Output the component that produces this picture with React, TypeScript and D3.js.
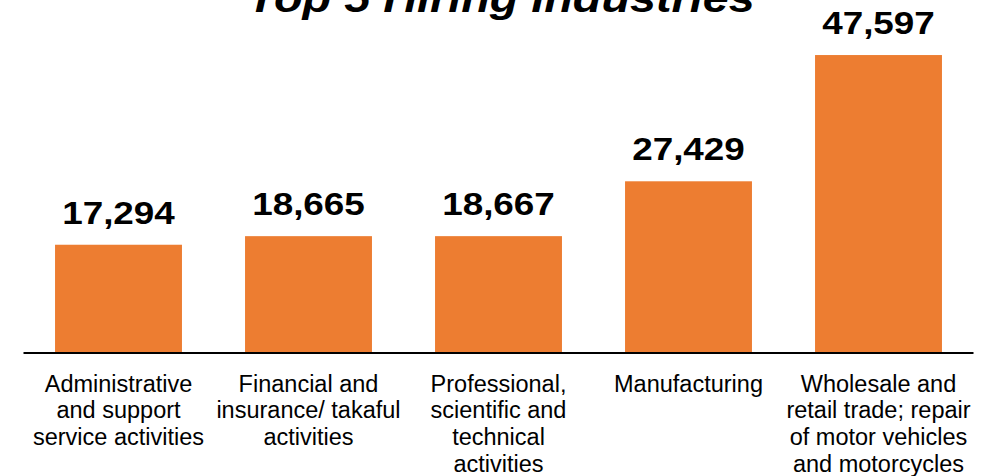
import React, { useEffect, useRef } from "react";
import * as d3 from "d3";

const categories = [
  "Administrative and support service activities",
  "Financial and insurance/ takaful activities",
  "Professional, scientific and technical activities",
  "Manufacturing",
  "Wholesale and retail trade; repair of motor vehicles and motorcycles",
];
const labelLines = [
  ["Administrative", "and support", "service activities"],
  ["Financial and", "insurance/ takaful", "activities"],
  ["Professional,", "scientific and", "technical", "activities"],
  ["Manufacturing"],
  ["Wholesale and", "retail trade; repair", "of motor vehicles", "and motorcycles"],
];
const hires = [17294, 18665, 18667, 27429, 47597];
const title = "Top 5 Hiring Industries";

export default function App() {
  const ref = useRef<HTMLDivElement | null>(null);

  useEffect(() => {
    if (!ref.current) return;
    d3.select(ref.current).selectAll("svg").remove();

    const W = 988;
    const H = 476;
    const font = "'Liberation Sans', Arial, sans-serif";
    const baseY = 353;

    const svg = d3
      .select(ref.current)
      .append("svg")
      .attr("width", W)
      .attr("height", H)
      .style("position", "absolute")
      .style("left", "0px")
      .style("top", "0px")
      .style("background", "#fff");

    const x = d3
      .scaleBand<string>()
      .domain(categories)
      .range([23.5, 973.5])
      .paddingInner(0.332)
      .paddingOuter(0.166);
    const y = d3.scaleLinear([0, 50000], [baseY, 40]);

    // title (cut at the top like the source)
    svg
      .append("text")
      .attr("transform", "translate(501,12) scale(1.17,1)")
      .attr("text-anchor", "middle")
      .attr("font-family", font)
      .attr("font-weight", "bold")
      .attr("font-style", "italic")
      .attr("font-size", 40)
      .attr("fill", "#000")
      .text(title);

    svg
      .append("g")
      .selectAll("rect")
      .data(hires)
      .enter()
      .append("rect")
      .attr("x", (d, i) => x(categories[i])!)
      .attr("y", (d) => y(d))
      .attr("width", x.bandwidth())
      .attr("height", (d) => baseY - y(d))
      .attr("fill", "#ED7D31");

    // axis line
    svg
      .append("line")
      .attr("x1", x.range()[0])
      .attr("x2", x.range()[1])
      .attr("y1", baseY)
      .attr("y2", baseY)
      .attr("stroke", "#000")
      .attr("stroke-width", 2);

    // value labels
    svg
      .append("g")
      .selectAll("text")
      .data(hires)
      .enter()
      .append("text")
      .attr(
        "transform",
        (d, i) =>
          `translate(${x(categories[i])! + x.bandwidth() / 2},${y(d) - 21}) scale(1.17,1)`
      )
      .attr("text-anchor", "middle")
      .attr("font-family", font)
      .attr("font-weight", "bold")
      .attr("font-size", 31.5)
      .attr("fill", "#000")
      .text((d) => d3.format(",")(d));

    // category labels
    const cat = svg
      .append("g")
      .selectAll("text")
      .data(labelLines)
      .enter()
      .append("text")
      .attr("text-anchor", "middle")
      .attr("font-family", font)
      .attr("font-size", 23.5)
      .attr("fill", "#000");
    cat
      .selectAll("tspan")
      .data((d, i) => d.map((t) => ({ t, i })))
      .enter()
      .append("tspan")
      .attr("x", (d) => x(categories[d.i])! + x.bandwidth() / 2)
      .attr("y", (d, j) => 391.5 + j * 26.7)
      .text((d) => d.t);
  });

  return <div ref={ref}></div>;
}
